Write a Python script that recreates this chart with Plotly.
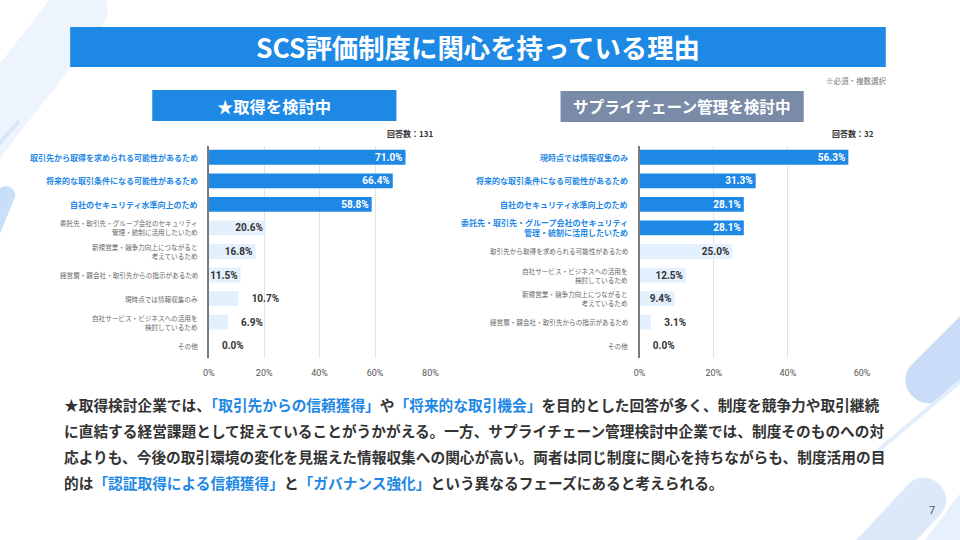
import math
import plotly.graph_objects as go

# data
left_labels = ["取引先から取得を求められる可能性があるため",
               "将来的な取引条件になる可能性があるため",
               "自社のセキュリティ水準向上のため",
               "委託先・取引先・グループ会社のセキュリティ<br>管理・統制に活用したいため",
               "新規営業・競争力向上につながると<br>考えているため",
               "経営層・親会社・取引先からの指示があるため",
               "現時点では情報収集のみ",
               "自社サービス・ビジネスへの活用を<br>検討しているため",
               "その他"]
left_values = [71.0, 66.4, 58.8, 20.6, 16.8, 11.5, 10.7, 6.9, 0.0]
left_top = 3

right_labels = ["現時点では情報収集のみ",
                "将来的な取引条件になる可能性があるため",
                "自社のセキュリティ水準向上のため",
                "委託先・取引先・グループ会社のセキュリティ<br>管理・統制に活用したいため",
                "取引先から取得を求められる可能性があるため",
                "自社サービス・ビジネスへの活用を<br>検討しているため",
                "新規営業・競争力向上につながると<br>考えているため",
                "経営層・親会社・取引先からの指示があるため",
                "その他"]
right_values = [56.3, 31.3, 28.1, 28.1, 25.0, 12.5, 9.4, 3.1, 0.0]
right_top = 4

left_ticks = [0, 20, 40, 60, 80]
left_tick_text = ["0%", "20%", "40%", "60%", "80%"]
right_ticks = [0, 20, 40, 60]
right_tick_text = ["0%", "20%", "40%", "60%"]

title = "SCS評価制度に関心を持っている理由"
left_title = "★取得を検討中"
right_title = "サプライチェーン管理を検討中"
left_n = "回答数：131"
right_n = "回答数：32"
note = "※必須・複数選択"
blue_txt = "#1E88E5"
body_lines = [
    "★取得検討企業では、<span style='color:%s'>「取引先からの信頼獲得」</span>や<span style='color:%s'>「将来的な取引機会」</span>を目的とした回答が多く、制度を競争力や取引継続",
    "に直結する経営課題として捉えていることがうかがえる。一方、サプライチェーン管理検討中企業では、制度そのものへの対",
    "応よりも、今後の取引環境の変化を見据えた情報収集への関心が高い。両者は同じ制度に関心を持ちながらも、制度活用の目",
    "的は<span style='color:%s'>「認証取得による信頼獲得」</span>と<span style='color:%s'>「ガバナンス強化」</span>という異なるフェーズにあると考えられる。",
]

W, H = 960, 540
FONT = "Noto Sans CJK JP"
BLUE = "#1E88E5"
LIGHT = "#E3F0FD"
GREY_BOX = "#7A8BA7"

# the page shows up slightly squeezed sideways, so slide pixels are mapped through this
OX, SX = 7.87, 944.3


def fx(x):
    return (x - OX) / SX


def px(x, y):
    return fx(x), 1 - y / H


def pill(x0, y0, x1, y1, w):
    dx, dy = x1 - x0, y1 - y0
    L = math.hypot(dx, dy)
    ux, uy = dx / L, dy / L
    r = w / 2
    nx, ny = -uy * r, ux * r
    k = r * 4 / 3
    pts = {
        "A": (x0 + nx, y0 + ny), "B": (x1 + nx, y1 + ny),
        "C": (x1 - nx, y1 - ny), "D": (x0 - nx, y0 - ny),
        "B1": (x1 + nx + ux * k, y1 + ny + uy * k), "C1": (x1 - nx + ux * k, y1 - ny + uy * k),
        "D1": (x0 - nx - ux * k, y0 - ny - uy * k), "A1": (x0 + nx - ux * k, y0 + ny - uy * k),
    }
    p = {k_: "%.5f,%.5f" % px(*v) for k_, v in pts.items()}
    return "M %s L %s C %s %s %s L %s C %s %s %s Z" % (
        p["A"], p["B"], p["B1"], p["C1"], p["C"], p["D"], p["D1"], p["A1"], p["A"])


def note_at(x, y, text, size, color, weight="normal", xanchor="center", family=FONT):
    fig.add_annotation(x=fx(x), y=1 - y / H, xref="paper", yref="paper", text=text,
                       xanchor=xanchor, yanchor="middle", showarrow=False,
                       font=dict(family=family, size=size, color=color, weight=weight))


fig = go.Figure()

# domains in paper space
y_dom = [1 - 357.5 / H, 1 - 145.5 / H]
left_dom = [fx(210.5), fx(432.0)]
right_dom = [fx(641.0), fx(863.3)]


def add_panel(labels, values, top, xa, ya, xmax, dom, label_right):
    pxper = (dom[1] - dom[0]) * SX / xmax
    colors = [BLUE if i < top else LIGHT for i in range(len(values))]
    tcol = ["white" if i < top else "#333333" for i in range(len(values))]
    inside = [v * pxper >= 30 for v in values]
    fig.add_trace(go.Bar(
        x=values, y=labels, orientation="h",
        marker=dict(color=colors, line=dict(width=0)),
        width=0.63,
        text=["%.1f%%" % v if ins else "\u2002\u2002%.1f%%" % v for v, ins in zip(values, inside)],
        textposition=["inside" if ins else "outside" for ins in inside],
        insidetextanchor="end",
        constraintext="none",
        textfont=dict(family="Roboto", size=10, color=tcol, weight="bold"),
        cliponaxis=False,
        hoverinfo="skip",
        xaxis=xa, yaxis=ya,
    ))
    for i, lab in enumerate(labels):
        hi = i < top
        fig.add_annotation(
            x=fx(label_right), xref="paper", y=lab, yref=ya,
            text=lab, showarrow=False, xanchor="right", yanchor="middle", align="right",
            font=dict(family=FONT, size=8 if hi else 6.6,
                      color=BLUE if hi else "#666666",
                      weight="bold" if hi else "normal"),
        )


add_panel(left_labels, left_values, left_top, "x", "y", 80, left_dom, 202)
add_panel(right_labels, right_values, right_top, "x2", "y2", 60, right_dom, 631)

ax_common = dict(showgrid=True, gridcolor="#E2E2E2", gridwidth=1, zeroline=False,
                 showline=False, ticklabelstandoff=8, tickmode="array",
                 tickfont=dict(family="Roboto", size=9, color="#555555"), fixedrange=True)
ay_common = dict(showticklabels=False, showgrid=False, zeroline=False, autorange="reversed",
                 showline=True, linecolor="#7A7A7A", linewidth=1.5, ticks="", fixedrange=True)

fig.update_layout(
    width=W, height=H, margin=dict(l=0, r=0, t=0, b=0),
    paper_bgcolor="white", plot_bgcolor="rgba(0,0,0,0)",
    showlegend=False, bargap=0.37,
    font=dict(family=FONT),
    xaxis=dict(domain=left_dom, range=[0, 80], tickvals=left_ticks, ticktext=left_tick_text,
               anchor="y", **ax_common),
    yaxis=dict(domain=y_dom, anchor="x", categoryorder="array", categoryarray=left_labels, **ay_common),
    xaxis2=dict(domain=right_dom, range=[0, 60], tickvals=right_ticks, ticktext=right_tick_text,
                anchor="y2", **ax_common),
    yaxis2=dict(domain=y_dom, anchor="x2", categoryorder="array", categoryarray=right_labels, **ay_common),
)

# background decoration
deco = [
    (-40, 165, 80, 10, 58, "#EEF4FD"),
    (-12, 158, 20, 122, 4, "#D7E7FB"),
    (-25, 275, 8, 195, 18, "#C9DEF8"),
    (930, 380, 1010, 300, 46, "#C9DDF8"),
    (880, 450, 975, 370, 4, "#E2EDFC"),
    (855, 575, 925, 500, 44, "#DCE9FB"),
    (930, 560, 990, 480, 30, "#E7F0FD"),
]
for x0, y0, x1, y1, w, c in deco:
    fig.add_shape(type="path", path=pill(x0, y0, x1, y1, w), xref="paper", yref="paper",
                  fillcolor=c, line=dict(width=0), layer="below")

# header banner and panel titles
for (x0, y0, x1, y1, c) in [(72, 27, 887, 67, BLUE), (154, 90, 398, 121, BLUE),
                            (562, 91, 805, 122, GREY_BOX)]:
    a, b = px(x0, y1)
    cx, d = px(x1, y0)
    fig.add_shape(type="rect", x0=a, y0=b, x1=cx, y1=d, xref="paper", yref="paper",
                  fillcolor=c, line=dict(width=0), layer="below")

note_at(480, 47, title, 26.4, "white", "bold")
note_at(276, 105.5, left_title, 16.3, "white", "bold")
note_at(683.5, 106.5, right_title, 15.6, "white", "bold")
note_at(890, 80, note, 7.5, "#777777", xanchor="right")
note_at(437, 134, left_n, 8, "#333333", "bold", xanchor="right")
note_at(877, 134, right_n, 8, "#333333", "bold", xanchor="right")

# commentary
line_y = [404, 430, 456, 482]
for ln, yy in zip(body_lines, line_y):
    note_at(64, yy, ln.replace("%s", blue_txt), 14.7, "#333333", "bold", xanchor="left")

note_at(933, 510, "7", 11, "#555555", family="Roboto")

fig.write_html("out.html", config={"displayModeBar": False},
               post_script="document.body.style.margin='0px';")
